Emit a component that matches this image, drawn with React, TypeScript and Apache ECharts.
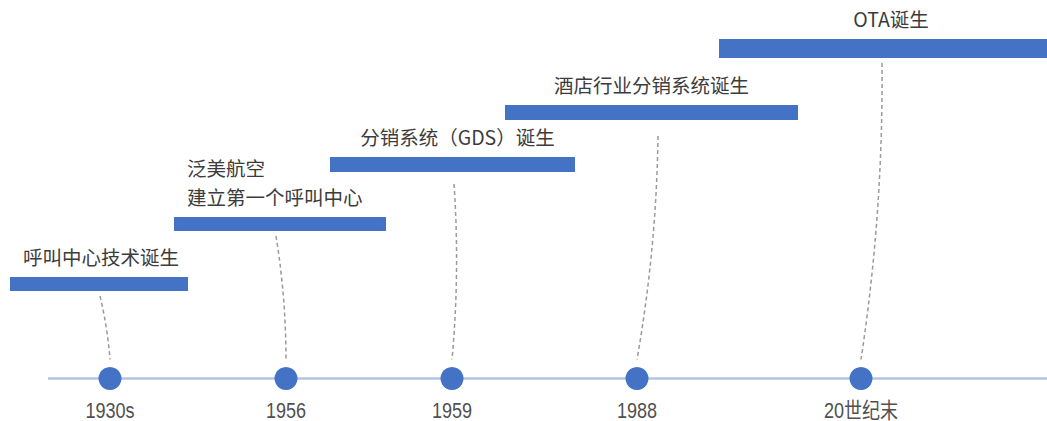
import React, { useEffect, useRef } from "react";
import * as echarts from "echarts";

// ---- data ----
const eras = ["1930s", "1956", "1959", "1988", "20世纪末"];
const eraPos = [110, 286, 452, 637, 861];
const events = [
  "呼叫中心技术诞生",
  "泛美航空\n建立第一个呼叫中心",
  "分销系统（GDS）诞生",
  "酒店行业分销系统诞生",
  "OTA诞生",
];
const barStart = [10, 174, 330, 505, 719];
const barEnd = [188, 386, 575, 798, 1047];
const barRow = [284, 224, 164.5, 112.5, 48.5];
const linkFrom = [100, 276, 454, 658, 882];

// ---- layout / style constants ----
const TIMELINE_Y = 378.5;
const TIMELINE_FROM = 48;
const TIMELINE_TO = 1047;
const BAR_H = [14, 14, 15, 15, 19];
const LINK_GAP = [5, 5, 12, 16, 5];
const LABEL_ALIGN = ["center", "left", "center", "center", "center"];
const LABEL_SHIFT = [2, 13, 5, 0, 8];
const BLUE = "#4472c4";
const CJK = "'Noto Sans CJK SC', 'Noto Sans', sans-serif";

export default function App() {
  const ref = useRef<HTMLDivElement>(null);

  useEffect(() => {
    if (!ref.current) return;
    const chart = echarts.init(ref.current, undefined, { renderer: "svg" });

    const barData = events.map((name, i) => [barStart[i], barEnd[i], barRow[i], i]);
    const eraData = eraPos.map((x, i) => [x, TIMELINE_Y, i]);

    chart.setOption({
      animation: false,
      backgroundColor: "#ffffff",
      grid: { left: 0, right: 0, top: 0, bottom: 0 },
      xAxis: { type: "value", min: 0, max: 1047, show: false },
      yAxis: { type: "value", min: 0, max: 421, inverse: true, show: false },
      series: [
        {
          type: "line",
          data: [
            [TIMELINE_FROM, TIMELINE_Y],
            [TIMELINE_TO, TIMELINE_Y],
          ],
          symbol: "none",
          lineStyle: { color: "#b7c3e6", width: 2.5 },
          z: 1,
        },
        {
          type: "lines",
          coordinateSystem: "cartesian2d",
          z: 2,
          lineStyle: { color: "#9a9a9a", width: 1.5, type: [4, 3], curveness: 0.04, opacity: 1 },
          data: eraPos.map((x, i) => ({
            coords: [
              [linkFrom[i], barRow[i] + BAR_H[i] / 2 + LINK_GAP[i]],
              [x, TIMELINE_Y - 19],
            ],
          })),
        },
        {
          type: "scatter",
          z: 3,
          symbolSize: 23,
          itemStyle: { color: BLUE, opacity: 1 },
          data: eraPos.map((x) => [x, TIMELINE_Y]),
        },
        {
          type: "custom",
          z: 4,
          data: eraData,
          renderItem: (params: any, api: any) => {
            const i = api.value(2);
            const p = api.coord([api.value(0), api.value(1)]);
            return {
              type: "text",
              x: p[0],
              y: p[1] + 32,
              scaleX: 0.84,
              style: {
                text: eras[i],
                x: 0,
                y: 0,
                align: "center",
                verticalAlign: "middle",
                fontFamily: "'Liberation Sans', 'Noto Sans CJK SC', sans-serif",
                fontSize: 21.5,
                lineHeight: 20,
                fill: "#505050",
              },
            };
          },
        },
        {
          type: "custom",
          z: 4,
          data: barData,
          renderItem: (params: any, api: any) => {
            const i = api.value(3);
            const a = api.coord([api.value(0), api.value(2)]);
            const b = api.coord([api.value(1), api.value(2)]);
            const h = BAR_H[i];
            const top = a[1] - h / 2;
            const align = LABEL_ALIGN[i];
            const tx = align === "left" ? a[0] + LABEL_SHIFT[i] : (a[0] + b[0]) / 2 + LABEL_SHIFT[i];
            return {
              type: "group",
              children: [
                {
                  type: "rect",
                  shape: { x: a[0], y: top, width: b[0] - a[0], height: h },
                  style: { fill: BLUE },
                },
                {
                  type: "text",
                  style: {
                    text: events[i],
                    x: tx,
                    y: top - 6,
                    align,
                    verticalAlign: "bottom",
                    fontFamily: CJK,
                    fontSize: 19.5,
                    lineHeight: 29,
                    fill: "#3c3c3c",
                  },
                },
              ],
            };
          },
        },
      ],
    });

    return () => chart.dispose();
  }, []);

  return (
    <div
      ref={ref}
      style={{ position: "fixed", left: 0, top: 0, width: 1047, height: 421 }}
    />
  );
}
